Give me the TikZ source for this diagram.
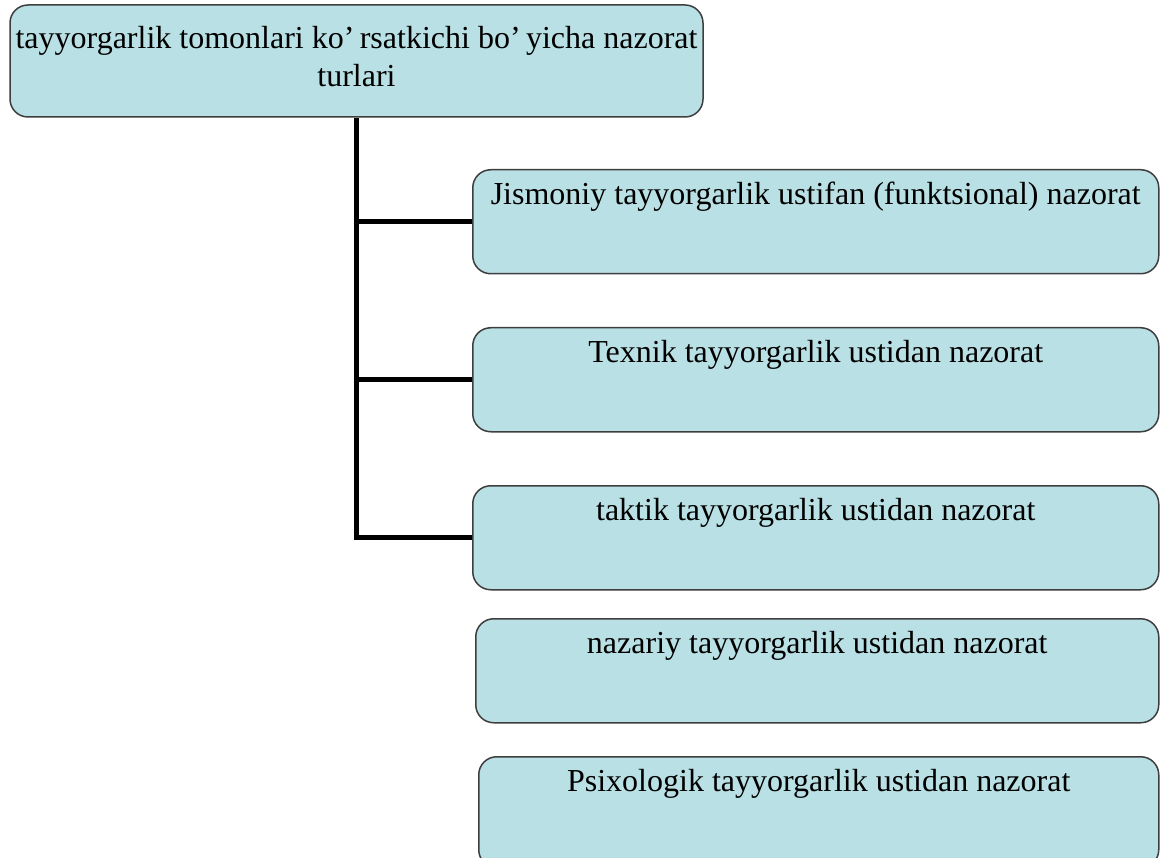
\documentclass[tikz,border=0pt]{standalone}
\usepackage{fontspec}
\setmainfont{Liberation Serif}
\definecolor{boxfill}{RGB}{185,224,228}
\definecolor{boxline}{RGB}{62,62,62}
\begin{document}
\begin{tikzpicture}[x=1pt,y=-1pt,
  card/.style={draw=boxline, fill=boxfill, line width=1.5pt,
    rounded corners=18pt, inner sep=0pt,
    font=\fontsize{32}{38}\selectfont},
  sub/.style={card, anchor=north west, text height=35pt, text depth=69pt},
  link/.style={line width=5pt, black}]
\useasboundingbox (0,0) rectangle (1161,858);

% heading box
\node[card, minimum width=693pt, minimum height=112pt, align=center, text depth=10pt]
  (top) at (356.5,61) {tayyorgarlik tomonlari ko’\,rsatkichi bo’\,yicha nazorat\\turlari};

% kinds of control
\node[sub, minimum width=686pt] (b1) at (472,169)
  {Jismoniy tayyorgarlik ustifan (funktsional) nazorat};
\node[sub, minimum width=686pt] (b2) at (472,327)
  {Texnik tayyorgarlik ustidan nazorat};
\node[sub, minimum width=686pt] (b3) at (472,485)
  {taktik tayyorgarlik ustidan nazorat};
\node[sub, minimum width=683pt] (b4) at (475,618)
  {nazariy tayyorgarlik ustidan nazorat};
\node[sub, minimum width=680pt, text depth=76pt] (b5) at (478,756)
  {Psixologik tayyorgarlik ustidan nazorat};

% tree connectors
\draw[link] (top.south) |- (b3.west);
\draw[link] (top.south |- b1.west) -- (b1.west);
\draw[link] (top.south |- b2.west) -- (b2.west);
\end{tikzpicture}
\end{document}
